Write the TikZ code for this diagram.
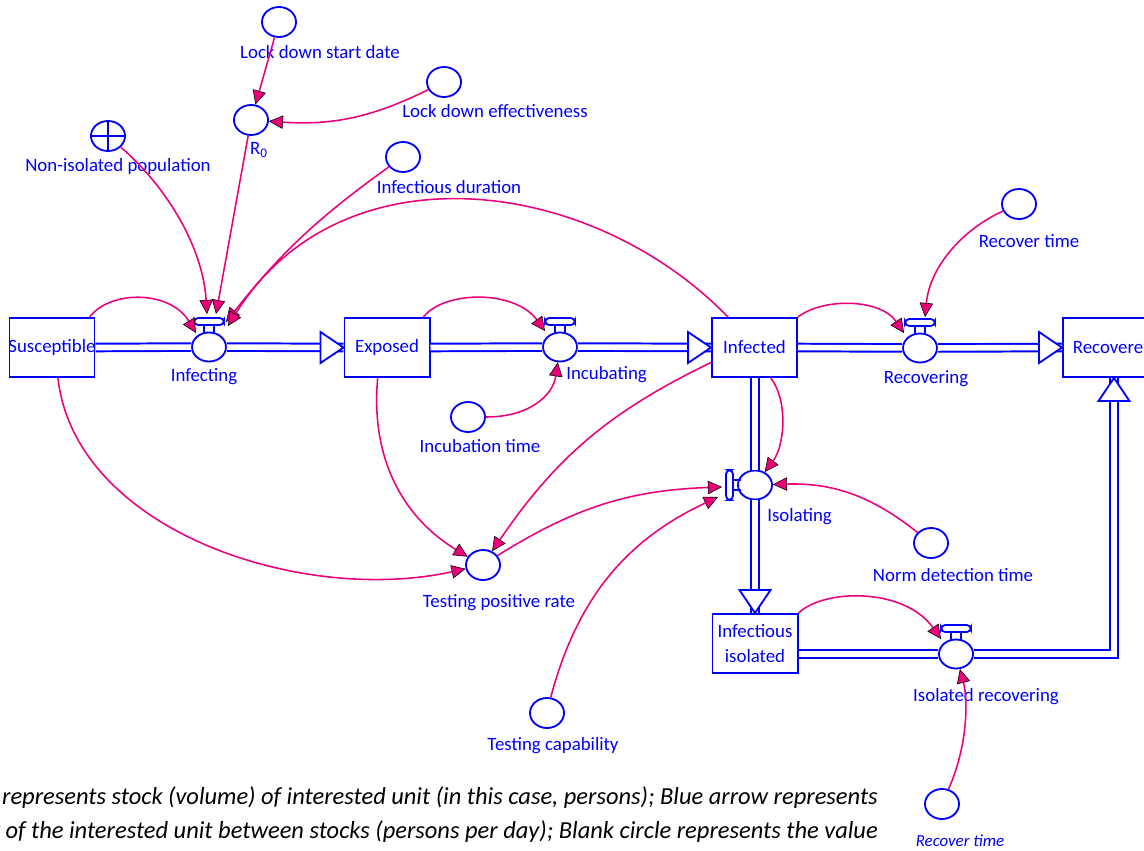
\documentclass[tikz,border=0pt]{standalone}
\usepackage{fontspec}
\setmainfont{Carlito}
\usepackage{tikz}
\usetikzlibrary{arrows.meta}
\usetikzlibrary{shapes.geometric}

\definecolor{simblue}{RGB}{0,0,255}
\definecolor{linkpink}{RGB}{236,0,122}
\newcommand\lblfont{\fontsize{13.4}{17.7}\selectfont}

\tikzset{
  stock/.style={draw=simblue, line width=1.4pt, text=simblue, font=\lblfont,
    minimum width=2.125cm, minimum height=1.475cm, inner sep=0pt},
  valve/.style={ellipse, draw=simblue, fill=white, line width=1.3pt,
    minimum width=0.85cm, minimum height=0.725cm, inner sep=0pt},
  aux/.style={ellipse, draw=simblue, line width=1.3pt,
    minimum width=0.85cm, minimum height=0.75cm, inner sep=0pt},
  lbl/.style={text=simblue, font=\lblfont, inner sep=0pt},
  pipe/.style={draw=simblue, double=white, line width=1.4pt, double distance=4pt, line join=miter},
  pipeedge/.style={draw=simblue, line width=1.3pt, line join=miter},
  link/.style={draw=linkpink, line width=1.1pt,
    -{Triangle[length=10pt, width=9.5pt, fill=linkpink, color=black, line width=0.4pt]}},
  caption/.style={anchor=east, font=\fontsize{17.4}{20}\selectfont\itshape, inner sep=0pt},
  flowtip/.pic={\draw[pipeedge, fill=white] (0,0) -- (-23,15.5) -- (-23,-15.5) -- cycle;},
  valvebar/.pic={
    \draw[pipeedge, fill=white, rounded corners=3pt] (-15,22) rectangle (15,29);
    \draw[pipeedge] (-5,22) -- (-5,14) (5,22) -- (5,14);},
}

\begin{document}
\begin{tikzpicture}[x=0.025cm, y=0.025cm]
  \useasboundingbox (0,0) rectangle (1144,-850);

  % stocks
  \node[stock, inner xsep=-4pt] (Susceptible) at (52,-347.5) {Susceptible};
  \node[stock] (Exposed) at (387,-347.5) {Exposed};
  \node[stock] (Infected) at (754.5,-347.5) {Infected};
  \node[stock, minimum width=2.5cm] (Recovered) at (1113,-347.5) {Recovered};
  \node[stock, align=center] (Isolated) at (755,-643.5) {Infectious\\isolated};

  % flows
  \node[valve] (Infecting) at (209,-347) {};
  \node[valve] (Incubating) at (560,-347) {};
  \node[valve] (Recovering) at (920,-348) {};
  \node[valve] (Isolating) at (755,-485) {};
  \node[valve] (IsoRecovering) at (956,-654) {};
  \coordinate (recbend) at (1114,-654);

  \draw[pipe] (Susceptible.east) -- (Infecting);
  \draw[pipe] (Infecting) -- (Exposed.west);
  \draw[pipe] (Exposed.east) -- (Incubating);
  \draw[pipe] (Incubating) -- (Infected.west);
  \draw[pipe] (Infected.east) -- (Recovering);
  \draw[pipe] (Recovering) -- (Recovered.west);
  \draw[pipe] (Infected.south -| Isolating) -- (Isolating);
  \draw[pipe] (Isolating) -- (Isolated.north);
  \draw[pipe] (Isolated.east |- IsoRecovering) -- (IsoRecovering);
  \draw[pipe] (IsoRecovering) -- (recbend) -- (recbend |- Recovered.south);

  \pic at (Exposed.west) {flowtip};
  \pic at (Infected.west) {flowtip};
  \pic at (Recovered.west) {flowtip};
  \pic[rotate=-90] at (Isolated.north) {flowtip};
  \pic[rotate=90] at (recbend |- Recovered.south) {flowtip};

  \pic at (Infecting) {valvebar};
  \pic at (Incubating) {valvebar};
  \pic at (Recovering) {valvebar};
  \pic[rotate=90] at (Isolating) {valvebar};
  \pic at (IsoRecovering) {valvebar};

  \node[lbl] (InfectingLbl) at (204,-377) {Infecting};
  \node[lbl, anchor=west] (IncubatingLbl) at (566,-375) {Incubating};
  \node[lbl] (RecoveringLbl) at (926,-379) {Recovering};
  \node[lbl, anchor=west] (IsolatingLbl) at (767,-517) {Isolating};
  \node[lbl] (IsoRecoveringLbl) at (986,-697) {Isolated recovering};

  % auxiliaries
  \node[aux] (LockStart) at (279,-22) {};
  \node[aux] (R0) at (251,-120) {};
  \node[aux] (LockEff) at (444,-82) {};
  \node[aux, path picture={\draw[simblue, line width=1.3pt]
      (path picture bounding box.west) -- (path picture bounding box.east)
      (path picture bounding box.north) -- (path picture bounding box.south);}]
    (NonIso) at (108,-136) {};
  \node[aux] (InfDur) at (403,-157) {};
  \node[aux] (RecTime) at (1019,-204) {};
  \node[aux] (IncTime) at (468,-417) {};
  \node[aux] (NormDet) at (931,-543) {};
  \node[aux] (TestPos) at (483,-565) {};
  \node[aux] (TestCap) at (547,-713) {};
  \node[aux] (RecTimeIso) at (942,-804) {};

  \node[lbl] (LockStartLbl) at (320,-52) {Lock down start date};
  \node[lbl] (R0Lbl) at (259,-150) {R\textsubscript{0}};
  \node[lbl] (LockEffLbl) at (495,-111) {Lock down effectiveness};
  \node[lbl] (NonIsoLbl) at (118,-166) {Non-isolated population};
  \node[lbl] (InfDurLbl) at (449,-187) {Infectious duration};
  \node[lbl] (RecTimeLbl) at (1029,-241) {Recover time};
  \node[lbl] (IncTimeLbl) at (480,-446) {Incubation time};
  \node[lbl] (NormDetLbl) at (953,-575) {Norm detection time};
  \node[lbl] (TestPosLbl) at (499,-603) {Testing positive rate};
  \node[lbl] (TestCapLbl) at (553,-746) {Testing capability};
  \node[lbl, font=\fontsize{12}{14}\selectfont\itshape] (RecTimeIsoLbl) at (960,-841) {Recover time};

  % link end points on the valves
  \coordinate (infS) at ([shift={(-13,14)}]Infecting.center);
  \coordinate (infN) at ([shift={(-2,33)}]Infecting.center);
  \coordinate (infR) at ([shift={(7,33)}]Infecting.center);
  \coordinate (infD) at ([shift={(17,25)}]Infecting.center);
  \coordinate (infI) at ([shift={(19,21)}]Infecting.center);
  \coordinate (incE) at ([shift={(-15,16)}]Incubating.center);
  \coordinate (recI) at ([shift={(-16,15)}]Recovering.center);
  \coordinate (recT) at ([shift={(5,31)}]Recovering.center);
  \coordinate (isoT) at ([shift={(-33,-2)}]Isolating.center);
  \coordinate (isoC) at ([shift={(-37,-12)}]Isolating.center);
  \coordinate (irI) at ([shift={(-15,15)}]IsoRecovering.center);

  % links
  \draw[link] (LockStart) -- (R0);
  \draw[link] (LockEff) to[bend left=15] (R0);
  \draw[link] (R0) -- (infR);
  \draw[link] (NonIso) .. controls (170,-190) and (203,-250) .. (infN);
  \draw[link] (InfDur) to[bend right=8] (infD);
  \draw[link] (Infected.131) .. controls (590,-175) and (340,-145) .. (infI);
  \draw[link] (Susceptible.39) .. controls (110,-290) and (170,-290) .. (infS);
  \draw[link] (Exposed.40) .. controls (445,-290) and (515,-290) .. (incE);
  \draw[link] (IncTime) .. controls (530,-417) and (553,-395) .. (Incubating);
  \draw[link] (Infected.north east) .. controls (822,-298) and (880,-298) .. (recI);
  \draw[link] (RecTime) .. controls (965,-228) and (930,-265) .. (recT);
  \draw[link] (Infected.-62) .. controls (788,-400) and (785,-445) .. (Isolating);
  \draw[link] (NormDet) to[bend right=20] (Isolating);
  \draw[link] (TestPos) to[bend left=15] (isoT);
  \draw[link] (TestCap) to[bend left=25] (isoC);
  \draw[link] (Exposed.-107) to[bend right=32] (TestPos);
  \draw[link] (Susceptible.-79) .. controls (75,-530) and (300,-605) .. (TestPos);
  \draw[link] (Infected.199) to[bend right=15] (TestPos);
  \draw[link] (Isolated.north east) .. controls (825,-588) and (905,-588) .. (irI);
  \draw[link] (RecTimeIso) .. controls (968,-745) and (968,-700) .. (IsoRecovering);

  % caption
  \node[caption] (CaptionA) at (878,-798)
    {represents stock (volume) of interested unit (in this case, persons); Blue arrow represents};
  \node[caption] (CaptionB) at (878,-832)
    {w of the interested unit between stocks (persons per day); Blank circle represents the value};
\end{tikzpicture}
\end{document}
